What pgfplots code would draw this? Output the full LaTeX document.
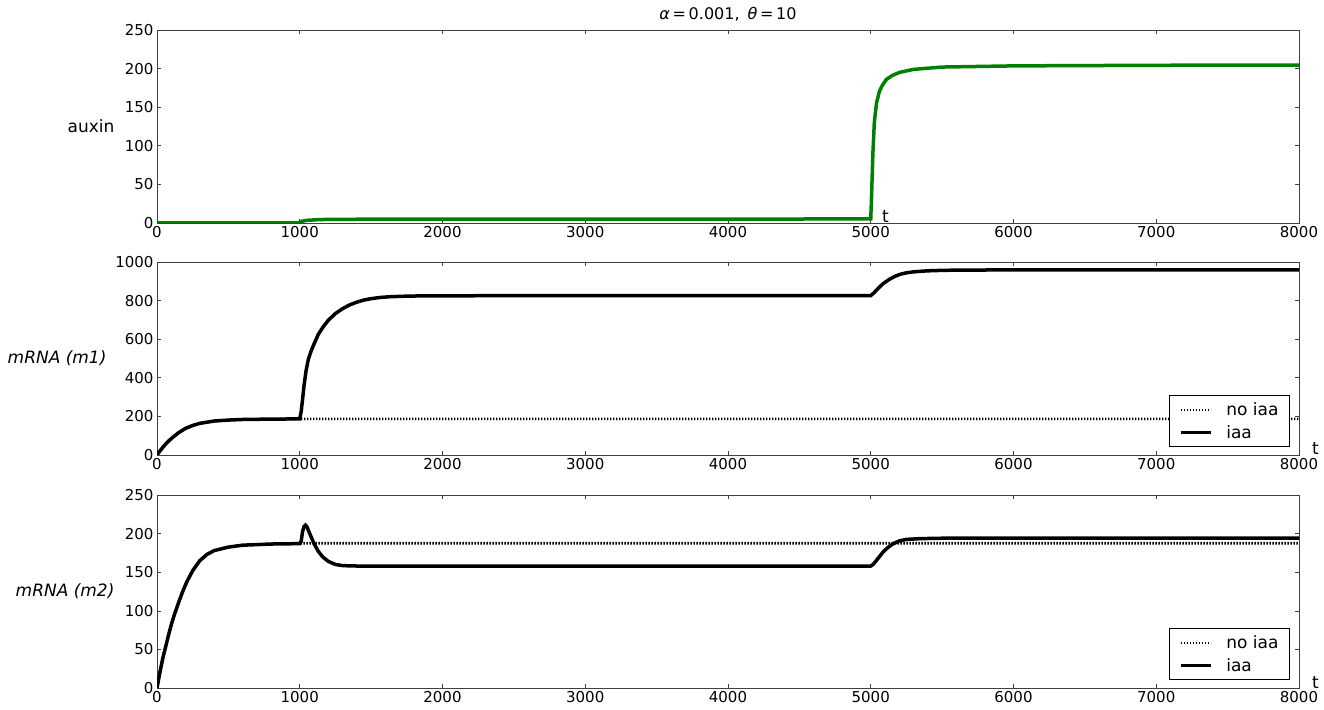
\documentclass[border=0pt]{standalone}
\usepackage{pgfplots}
\pgfplotsset{compat=1.18}
\usepackage{fontspec}
\setmainfont{DejaVu Sans}
\setsansfont{DejaVu Sans}
\definecolor{mplgreen}{rgb}{0,0.5,0}
\pgfplotsset{
 myaxis/.style={
  scale only axis, width=1142pt, height=193pt,
  xmin=0, xmax=8000, xtick={0,1000,...,8000},
  tick align=inside, major tick length=4pt,
  axis line style={line width=0.8pt, black!75},
  every tick/.style={black!75, line width=0.6pt},
  tick label style={font=\fontsize{15}{18}\selectfont},
  /pgf/number format/assume math mode=true,
  /pgf/number format/1000 sep={},
  scaled ticks=false,
  anchor=south west,
  legend image code/.code={\draw[#1] (0pt,0pt) -- (30pt,0pt);},
  legend style={at={(0.992,0.041)}, anchor=south east, draw=black, line width=0.8pt,
    fill=white, font=\fontsize{17}{20}\selectfont, cells={anchor=west},
    inner xsep=9pt, inner ysep=5pt, column sep=12pt, row sep=4pt},
 },
 solidc/.style={black, line width=3.5pt},
 dotc/.style={black, line width=2.6pt, dash pattern=on 1.4pt off 1.6pt},
}
\begin{document}
\begin{tikzpicture}
\path[use as bounding box] (0,0) rectangle (1324pt,709pt);
% ---------------- top
\begin{axis}[myaxis, name=top, at={(157pt,486pt)}, ymin=0, ymax=250, ytick={0,50,...,250}]
\addplot[mplgreen, line width=3.5pt] coordinates {
(0,0.3)(1000,0.3)(1010,2)(1050,3.5)(1150,4.5)(1500,5)(5000,5.2)
(5005,30)(5015,90)(5025,130)(5040,155)(5060,170)(5080,178)(5110,186)(5150,191)
(5200,195)(5300,199)(5500,202)(6000,203.5)(7000,204.3)(8000,204.6)};
\end{axis}
% ---------------- middle
\begin{axis}[myaxis, name=mid, at={(157pt,254pt)}, ymin=0, ymax=1000, ytick={0,200,...,1000}]
\addplot[dotc] coordinates {
(0,0)(25,25)(50,48)(75,68)(100,85)(150,115)(200,138)(250,153)(300,164)(400,176)
(500,181)(600,184)(800,186)(1000,187)(8000,187)};
\addlegendentry{no iaa}
\addplot[solidc] coordinates {
(0,0)(25,25)(50,48)(75,68)(100,85)(150,115)(200,138)(250,153)(300,164)(400,176)
(500,181)(600,184)(800,186)(1000,187)
(1010,225)(1020,290)(1030,360)(1045,440)(1060,495)(1080,540)(1100,575)(1130,625)
(1165,665)(1200,698)(1250,733)(1300,758)(1350,778)(1400,792)(1450,803)(1500,810)
(1560,816)(1630,820)(1750,823)(1900,825)(5000,826)
(5010,832)(5025,842)(5050,862)(5087,888)(5130,910)(5170,926)(5205,936)(5250,944)
(5300,949)(5370,953)(5440,955.5)(5600,958)(6000,959)(8000,959)};
\addlegendentry{iaa}
\end{axis}
% ---------------- bottom
\begin{axis}[myaxis, name=bot, at={(157pt,21pt)}, ymin=0, ymax=250, ytick={0,50,...,250}]
\addplot[dotc] coordinates {
(0,0)(20,20)(40,38)(60,53)(80,68)(100,82)(120,94)(150,110)(180,125)(210,138)
(250,152)(300,165)(350,173)(400,178)(500,182.5)(600,185)(800,186.5)(1000,187.5)(8000,187.5)};
\addlegendentry{no iaa}
\addplot[solidc] coordinates {
(0,0)(20,20)(40,38)(60,53)(80,68)(100,82)(120,94)(150,110)(180,125)(210,138)
(250,152)(300,165)(350,173)(400,178)(500,182.5)(600,185)(800,186.5)(1000,187)
(1010,190)(1020,203)(1030,209)(1040,211)(1050,209)(1070,200)(1100,187)(1130,177)
(1160,170)(1200,164)(1250,160)(1300,158.5)(1400,158)(5000,158)
(5015,160)(5030,163)(5060,170)(5088,176.5)(5120,182)(5158,187)(5200,190.5)(5250,192.5)
(5350,193.5)(5500,194)(8000,194)};
\addlegendentry{iaa}
\end{axis}
% ---------------- text
\node[anchor=south, font=\fontsize{16}{19}\selectfont] at ([yshift=5pt]top.north)
  {\textit{α}\,=\,0.001,\enspace\textit{θ}\,=\,10};
\node[anchor=east, font=\fontsize{17}{20}\selectfont] at ([xshift=-39pt]top.west) {auxin};
\node[anchor=east, font=\fontsize{17}{20}\selectfont\itshape] at ([xshift=-47pt]mid.west) {mRNA (m1)};
\node[anchor=east, font=\fontsize{17}{20}\selectfont\itshape] at ([xshift=-39pt]bot.west) {mRNA (m2)};
\node[anchor=base west, inner sep=0pt, font=\fontsize{17}{20}\selectfont] at ([xshift=725pt]top.south west) {t};
\node[anchor=base west, inner sep=0pt, font=\fontsize{17}{20}\selectfont] at ([xshift=13pt]mid.south east) {t};
\node[anchor=base west, inner sep=0pt, font=\fontsize{17}{20}\selectfont] at ([xshift=13pt]bot.south east) {t};
\end{tikzpicture}
\end{document}
